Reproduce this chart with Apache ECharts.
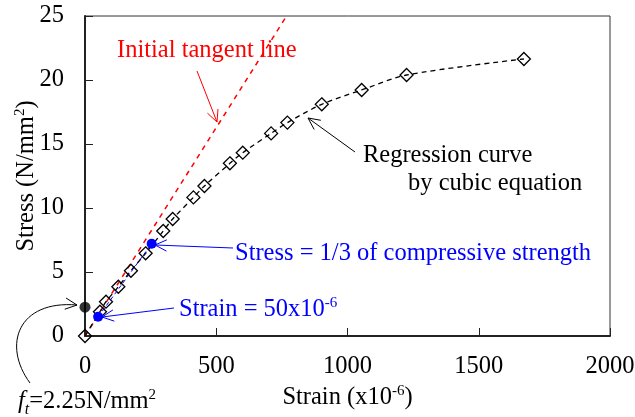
<!DOCTYPE html>
<html>
<head>
<meta charset="utf-8">
<script src="https://cdn.jsdelivr.net/npm/echarts@6/dist/echarts.min.js"></script>
<style>html,body{margin:0;padding:0;background:#fff}#c{width:635px;height:417px}</style>
</head>
<body>
<div id="c"></div>
<script>
// ---- data ----
var strainTicks = [0, 500, 1000, 1500, 2000];
var stressTicks = [0, 5, 10, 15, 20, 25];
var strain = [0, 57, 80, 127, 175, 231, 298, 334, 413, 455, 552, 601, 709, 771, 902, 1054, 1225, 1672];
var stress = [0, 1.9, 2.68, 3.85, 5.1, 6.46, 8.2, 9.14, 10.83, 11.72, 13.49, 14.32, 15.83, 16.67, 18.1, 19.22, 20.39, 21.64];
var tangentStrain = [0, 768];
var tangentStress = [0, 25];
var secantStrain = [50, 254];
var secantStress = [1.5, 7.21];
var ftStrain = [0];
var ftStress = [2.25];

function zip(a, b) { return a.map(function (v, i) { return [v, b[i]]; }); }

var FONT = "'Liberation Serif','Times New Roman',serif";
var FS = 24.5;
var richBase = {
  n: { fontFamily: FONT, fontSize: FS, color: '#000', lineHeight: 28, verticalAlign: 'bottom' },
  s: { fontFamily: FONT, fontSize: 15, color: '#000', lineHeight: 28, verticalAlign: 'top', padding: [2, 0, 0, 0] }
};
function richColor(c) {
  return {
    n: { fontFamily: FONT, fontSize: FS, fill: c, lineHeight: 28, verticalAlign: 'bottom' },
    s: { fontFamily: FONT, fontSize: 15, fill: c, lineHeight: 28, verticalAlign: 'top', padding: [2, 0, 0, 0] },
    i: { fontFamily: FONT, fontSize: FS, fill: c, fontStyle: 'italic', lineHeight: 28, verticalAlign: 'bottom' },
    sub: { fontFamily: FONT, fontSize: 16, fill: c, fontStyle: 'italic', lineHeight: 28, verticalAlign: 'bottom', padding: [0, 0, -4, 0] }
  };
}

function arrowHead(tip, from, len, color) {
  var dx = tip[0] - from[0], dy = tip[1] - from[1];
  var L = Math.sqrt(dx * dx + dy * dy); dx /= L; dy /= L;
  var a = 0.45;
  var c = Math.cos(a), s = Math.sin(a);
  var p1 = [tip[0] - len * (dx * c - dy * s), tip[1] - len * (dy * c + dx * s)];
  var p2 = [tip[0] - len * (dx * c + dy * s), tip[1] - len * (dy * c - dx * s)];
  return { type: 'polyline', shape: { points: [p1, tip, p2] }, style: { stroke: color, lineWidth: 1, fill: null }, z: 100 };
}
function arrow(from, tip, color) {
  return [
    { type: 'line', shape: { x1: from[0], y1: from[1], x2: tip[0], y2: tip[1] }, style: { stroke: color, lineWidth: 1 }, z: 100 },
    arrowHead(tip, from, 13, color)
  ];
}

var chart = echarts.init(document.getElementById('c'), null, { renderer: 'canvas' });

var graphics = [];
graphics.push({ type: 'text', left: 117, top: 38, style: { text: 'Initial tangent line', font: FS + 'px ' + FONT, fill: '#ff0000' }, z: 100 });
graphics = graphics.concat(arrow([197, 71], [217, 122], '#ff0000'));
graphics.push({ type: 'text', left: 363, top: 143, style: { text: 'Regression curve', font: FS + 'px ' + FONT, fill: '#000' }, z: 100 });
graphics.push({ type: 'text', left: 408, top: 171, style: { text: 'by cubic equation', font: FS + 'px ' + FONT, fill: '#000' }, z: 100 });
graphics = graphics.concat(arrow([355, 152], [308, 118], '#000'));
graphics.push({ type: 'text', left: 235, top: 241, style: { text: 'Stress = 1/3 of compressive strength', font: FS + 'px ' + FONT, fill: '#0000ff' }, z: 100 });
graphics = graphics.concat(arrow([233, 248], [155, 245], '#0000ff'));
graphics.push({ type: 'text', left: 179, top: 294, style: { text: '{n|Strain = 50x10}{s|-6}', rich: richColor('#0000ff') }, z: 100 });
graphics = graphics.concat(arrow([174, 308], [102, 317], '#0000ff'));
graphics.push({ type: 'text', left: 18, top: 386, style: { text: '{i|f}{sub|t}{n|=2.25N/mm}{s|2}', rich: richColor('#000') }, z: 100 });
graphics.push({ type: 'bezierCurve', shape: { x1: 30, y1: 383, cpx1: 2, cpy1: 345, cpx2: 18, cpy2: 300, x2: 77, y2: 305 }, style: { stroke: '#000', lineWidth: 1, fill: null }, z: 100 });
graphics.push(arrowHead([77, 305], [60, 303], 13, '#000'));

var option = {
  animation: false,
  backgroundColor: '#fff',
  grid: { left: 85, right: 25, top: 16, bottom: 81, containLabel: false, outerBoundsMode: 'none', show: true, borderColor: '#333', borderWidth: 1, backgroundColor: 'transparent' },
  xAxis: {
    type: 'value', min: strainTicks[0], max: strainTicks[strainTicks.length - 1], interval: 500,
    name: '{n|Strain (x10}{s|-6}{n|)}', nameLocation: 'middle', nameGap: 46, nameMoveOverlap: false,
    nameTextStyle: { rich: richBase },
    axisLine: { show: true, onZero: false, lineStyle: { color: '#222', width: 2 } },
    axisTick: { show: true, inside: true, length: 8, lineStyle: { color: '#222', width: 1 } },
    axisLabel: { margin: 18, fontFamily: FONT, fontSize: FS, color: '#000', showMinLabel: true, showMaxLabel: true, formatter: function (v) { return String(v); } },
    splitLine: { show: false }
  },
  yAxis: {
    type: 'value', min: stressTicks[0], max: stressTicks[stressTicks.length - 1], interval: 5,
    name: '{n|Stress (N/mm}{s|2}{n|)}', nameLocation: 'middle', nameGap: 46, nameRotate: 90, nameMoveOverlap: false,
    nameTextStyle: { rich: richBase },
    axisLine: { show: true, onZero: false, lineStyle: { color: '#222', width: 2 } },
    axisTick: { show: true, inside: true, length: 8, lineStyle: { color: '#222', width: 1 } },
    axisLabel: { margin: 21, fontFamily: FONT, fontSize: FS, color: '#000', formatter: function (v) { return String(v); } },
    splitLine: { show: false }
  },
  series: [
    {
      name: 'Initial tangent line', type: 'line', data: zip(tangentStrain, tangentStress),
      symbol: 'none', lineStyle: { color: '#ff0000', width: 1.5, type: [5, 5] }, z: 3
    },
    {
      name: 'Regression curve', type: 'line', data: zip(strain, stress), smooth: 0.3,
      symbol: 'diamond', symbolSize: 13,
      itemStyle: { color: 'rgba(255,255,255,0)', borderColor: '#000', borderWidth: 1.3 },
      lineStyle: { color: '#000', width: 1.3, type: [5, 4] }, z: 4
    },
    {
      name: 'Secant', type: 'line', data: zip(secantStrain, secantStress),
      symbol: 'circle', symbolSize: 10,
      itemStyle: { color: '#0000ff' },
      lineStyle: { color: '#0000ff', width: 1, type: [4, 3] }, z: 5
    },
    {
      name: 'ft', type: 'scatter', data: zip(ftStrain, ftStress),
      symbol: 'circle', symbolSize: 11, itemStyle: { color: '#000' }, z: 6
    }
  ],
  graphic: graphics
};
chart.setOption(option);
</script>
</body>
</html>
